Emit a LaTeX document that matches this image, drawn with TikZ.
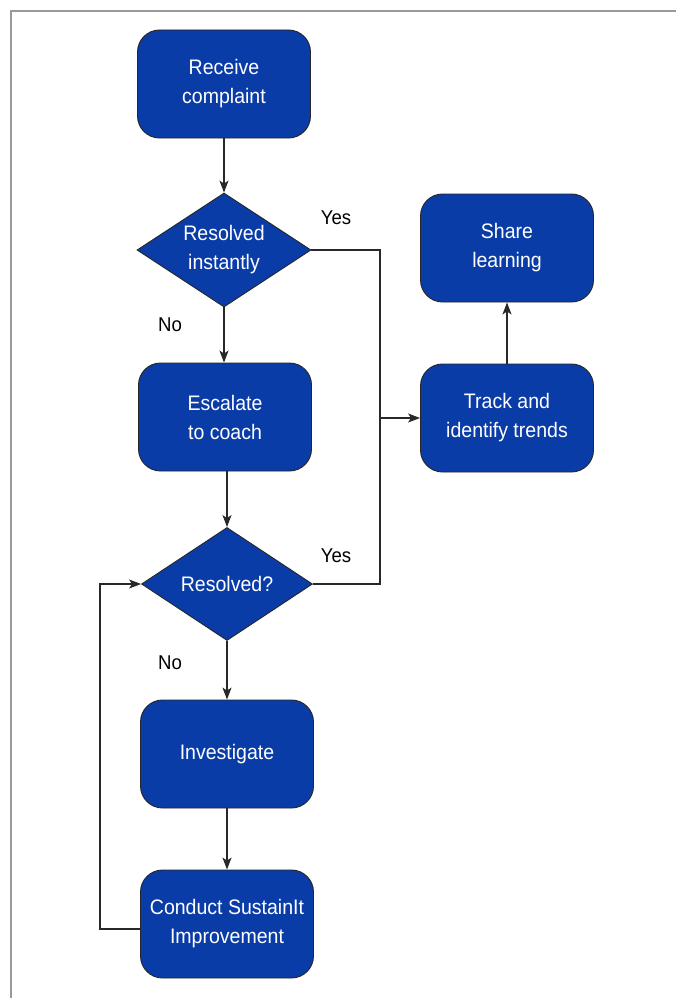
\documentclass[tikz,border=0pt]{standalone}
\usepackage{fontspec}
\setmainfont{Liberation Sans}
\newfontfamily\boxfont{Liberation Sans}[FakeStretch=0.93]
\usetikzlibrary{shapes.geometric,arrows.meta}
\definecolor{boxblue}{RGB}{10,60,168}
\definecolor{lncol}{RGB}{40,40,40}
\tikzset{
  stepbox/.style={draw=black!85, line width=0.9pt, fill=boxblue, rounded corners=22pt,
    minimum width=173pt, minimum height=108pt, text=white, align=center,
    font=\boxfont\fontsize{21}{29}\selectfont, inner sep=0pt},
  decbox/.style={draw=black!85, line width=0.9pt, fill=boxblue, diamond, aspect=1.53,
    minimum width=174pt, minimum height=114pt, text=white, align=center,
    font=\boxfont\fontsize{21}{29}\selectfont, inner sep=0pt},
  conn/.style={draw=lncol, line width=1.1pt},
  arr/.style={conn, -{Stealth[length=12pt,width=9pt,inset=3pt]}},
  lbl/.style={font=\boxfont\fontsize{20}{22}\selectfont, text=black, inner sep=0pt}
}
\begin{document}
\begin{tikzpicture}[x=1pt,y=-1pt]
\useasboundingbox (0,0) rectangle (676,998);
\fill[white] (0,0) rectangle (676,998);
\draw[gray!80, line width=1.5pt] (11,998) -- (11,11) -- (676,11);

\node[stepbox] (rc) at (224,84) {Receive\\complaint};
\node[decbox] (d1) at (224,250) {Resolved\\instantly};
\node[stepbox] (esc) at (225,417) {Escalate\\to coach};
\node[decbox, minimum width=171pt, minimum height=113pt] (d2) at (227,584) {Resolved?};
\node[stepbox] (inv) at (227,754) {Investigate};
\node[stepbox] (con) at (227,924) {Conduct SustainIt\\Improvement};
\node[stepbox] (sh) at (507,248) {Share\\learning};
\node[stepbox] (tr) at (507,418) {Track and\\identify trends};

\coordinate (j1) at (380,250);
\coordinate (j2) at (380,584);
\coordinate (lp) at (100,929);

\draw[arr] (rc.south) -- (d1.north);
\draw[arr] (d1.south) -- (d1.south |- esc.north);
\draw[arr] (esc.south -| d2.north) -- (d2.north);
\draw[arr] (d2.south) -- (inv.north);
\draw[arr] (inv.south) -- (con.north);
\draw[arr] (tr.north) -- (sh.south);
\draw[conn] (d1.east) -- (j1) -- (j2) -- (d2.east);
\draw[arr] (j1 |- tr.west) -- (tr.west);
\draw[arr] (con.west |- lp) -- (lp) |- (d2.west);

\node[lbl] (y1) at (336,218) {Yes};
\node[lbl] (n1) at (170,325) {No};
\node[lbl] (y2) at (336,556) {Yes};
\node[lbl] (n2) at (170,663) {No};
\end{tikzpicture}
\end{document}
